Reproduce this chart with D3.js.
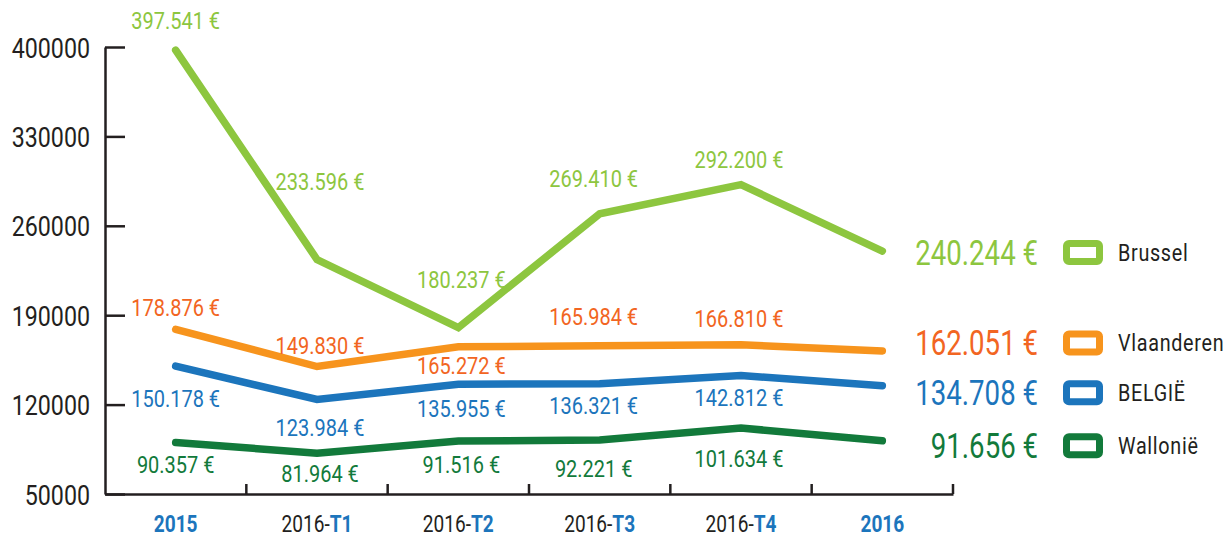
<!DOCTYPE html>
<html>
<head>
<meta charset="utf-8">
<script src="https://cdn.jsdelivr.net/npm/d3@7"></script>
<style>
  body { margin: 0; background: #fff; }
  svg text { font-family: Roboto, "Liberation Sans", sans-serif; }
</style>
</head>
<body>
<svg id="chart"></svg>
<script>
// ---- data ----
const CATEGORIES = ["2015", "2016-T1", "2016-T2", "2016-T3", "2016-T4", "2016"];
const SERIES_NAMES = ["Brussel", "Vlaanderen", "BELGIË", "Wallonië"];
const BRUSSEL = [397541, 233596, 180237, 269410, 292200, 240244];
const VLAANDEREN = [178876, 149830, 165272, 165984, 166810, 162051];
const BELGIE = [150178, 123984, 135955, 136321, 142812, 134708];
const WALLONIE = [90357, 81964, 91516, 92221, 101634, 91656];
const Y_TICKS = [50000, 120000, 190000, 260000, 330000, 400000];

// ---- layout / style ----
const layout = {
  width: 1227,
  height: 537,
  x0: 105, x1: 953,
  yTop: 47, yBottom: 494,
  ink: "#231f20",
  accent: "#1c75bc",
  squeeze: 0.83, // no condensed font installed: squeeze glyphs horizontally
};
const lineColors = ["#8dc63f", "#f7941d", "#1c75bc", "#127a3b"];
const textColors = ["#8dc63f", "#f26522", "#1c75bc", "#127a3b"];
// vertical offset of each point label from its point (last point uses the big end label)
const labelDy = [
  [-30, -78, -48, -35, -25],
  [-22, -21, 19, -29, -26],
  [32, 28, 24, 22, 22],
  [22, 20, 24, 28, 30],
];
const labelDx = [0, 3, 3, -6, -2];
const endDy = [1.5, -8, 7, 5];

const values = [BRUSSEL, VLAANDEREN, BELGIE, WALLONIE];
const series = SERIES_NAMES.map((name, i) => ({ name, i, values: values[i] }));

const locale = d3.formatLocale({ decimal: ",", thousands: ".", grouping: [3], currency: ["", ""] });
const euro = (v) => locale.format(",")(v) + " €";
const squeeze = (px, py, s = layout.squeeze) => `translate(${px},${py}) scale(${s},1)`;

const svg = d3.select("#chart").attr("width", layout.width).attr("height", layout.height);

const x = d3.scaleBand().domain(CATEGORIES).range([layout.x0, layout.x1]).padding(0);
const cx = (c) => x(c) + x.bandwidth() / 2;
const y = d3.scaleLinear().domain([50000, 400000]).range([layout.yBottom, layout.yTop]);

// y axis
svg.append("g")
  .attr("transform", `translate(${layout.x0},0)`)
  .call(d3.axisLeft(y).tickValues(Y_TICKS).tickSizeInner(-20).tickSizeOuter(0).tickPadding(15).tickFormat(d3.format("d")))
  .call((g) => g.selectAll("path, line").attr("stroke", layout.ink).attr("stroke-width", 2.5))
  .call((g) =>
    g.selectAll("text")
      .attr("x", null)
      .attr("transform", squeeze(-15, 0))
      .attr("fill", layout.ink)
      .style("font-size", "28px")
      .attr("dy", "0.36em")
  );

// x axis
const xAxis = svg.append("g")
  .attr("transform", `translate(0,${layout.yBottom})`)
  .call(d3.axisBottom(x).tickSize(0).tickSizeOuter(0).tickPadding(0))
  .call((g) => g.select(".domain").attr("stroke", layout.ink).attr("stroke-width", 2.5));

xAxis.selectAll(".tick text").each(function (d) {
  const t = d3.select(this)
    .text(null)
    .attr("y", null)
    .attr("transform", squeeze(0, 29.5))
    .attr("dy", "0.36em")
    .style("font-size", "23px");
  const parts = d.split("-");
  if (parts.length > 1) {
    t.append("tspan").attr("fill", layout.ink).text(parts[0] + "-");
    t.append("tspan").attr("fill", layout.accent).attr("font-weight", "bold").text(parts[1]);
  } else {
    t.append("tspan").attr("fill", layout.accent).attr("font-weight", "bold").text(d);
  }
});

xAxis.selectAll("line.boundary")
  .data(CATEGORIES)
  .join("line")
  .attr("class", "boundary")
  .attr("x1", (d) => x(d) + x.bandwidth())
  .attr("x2", (d) => x(d) + x.bandwidth())
  .attr("y1", 0)
  .attr("y2", -10)
  .attr("stroke", layout.ink)
  .attr("stroke-width", 2.5);

// lines
const line = d3.line()
  .x((d, j) => cx(CATEGORIES[j]))
  .y((d) => y(d));

svg.append("g")
  .attr("fill", "none")
  .attr("stroke-width", 7.5)
  .attr("stroke-linecap", "round")
  .selectAll("path")
  .data(series)
  .join("path")
  .attr("stroke", (s) => lineColors[s.i])
  .attr("d", (s) => line(s.values));

// point labels
const labels = svg.append("g").attr("text-anchor", "middle").style("font-size", "23.5px");
series.forEach((s) => {
  labels.selectAll(null)
    .data(s.values.slice(0, -1))
    .join("text")
    .attr("transform", (d, j) => squeeze(cx(CATEGORIES[j]) + labelDx[j], y(d) + labelDy[s.i][j], 0.85))
    .attr("dy", "0.36em")
    .attr("fill", textColors[s.i])
    .text((d) => euro(d));
});

// end labels + legend
const last = CATEGORIES.length - 1;
const endY = (s) => y(s.values[last]) + endDy[s.i];

svg.append("g")
  .attr("text-anchor", "end")
  .style("font-size", "34.5px")
  .selectAll("text")
  .data(series)
  .join("text")
  .attr("transform", (s) => squeeze(1038, endY(s), 0.8))
  .attr("dy", "0.36em")
  .attr("fill", (s) => textColors[s.i])
  .text((s) => euro(s.values[last]));

const legend = svg.append("g")
  .selectAll("g")
  .data(series)
  .join("g")
  .attr("transform", (s) => `translate(1063,${endY(s)})`);

legend.append("rect")
  .attr("x", 3.5)
  .attr("y", -9)
  .attr("width", 33)
  .attr("height", 18)
  .attr("rx", 2.5)
  .attr("fill", "#fff")
  .attr("stroke", (s) => lineColors[s.i])
  .attr("stroke-width", 7);

legend.append("text")
  .attr("transform", squeeze(55, 0, 0.86))
  .attr("dy", "0.36em")
  .attr("fill", layout.ink)
  .style("font-size", "23px")
  .style("letter-spacing", "0.8px")
  .text((s) => s.name);
</script>
</body>
</html>
